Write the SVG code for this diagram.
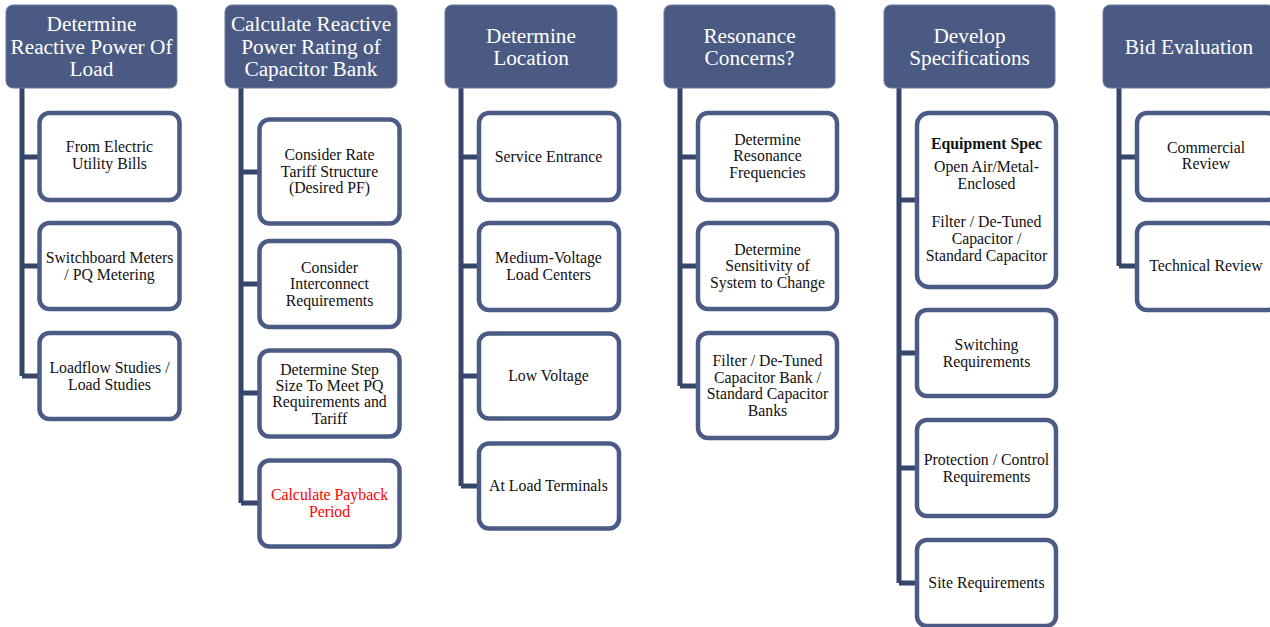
<svg xmlns="http://www.w3.org/2000/svg" width="1270" height="627" viewBox="0 0 1270 627">
<style>
.hd{fill:#4a5a83;stroke:#6a79a0;stroke-width:1}
.bx{fill:#ffffff;stroke:#4b5b86;stroke-width:4.5}
.cn{fill:none;stroke:#36456a;stroke-width:5;stroke-linejoin:miter}
.ht{font-family:"Liberation Serif","Times New Roman",serif;font-size:21.3px;fill:#ffffff;text-anchor:middle}
.ct{font-family:"Liberation Serif","Times New Roman",serif;font-size:15.8px;fill:#111111;text-anchor:middle}
.red{fill:#ff0000}
.b{font-weight:bold}
</style>
<rect width="1270" height="627" fill="#ffffff"/>
<g id="connectors">
<path class="cn" d="M22 88 V376 M22 157 H38 M22 266 H38 M22 376 H38"/>
<path class="cn" d="M241 88 V503 M241 172 H258 M241 284 H258 M241 393 H258 M241 503 H258"/>
<path class="cn" d="M461 88 V486 M461 157 H478 M461 266 H478 M461 376 H478 M461 486 H478"/>
<path class="cn" d="M680 88 V386 M680 157 H697 M680 266 H697 M680 386 H697"/>
<path class="cn" d="M899 88 V583 M899 200 H916 M899 353 H916 M899 468 H916 M899 583 H916"/>
<path class="cn" d="M1119 88 V266 M1119 157 H1136 M1119 266 H1136"/>
</g>
<g id="h1"><rect class="hd" x="6" y="5" width="171" height="83" rx="7"/><text class="ht" x="91.5" y="31">Determine</text><text class="ht" x="91.5" y="54">Reactive Power Of</text><text class="ht" x="91.5" y="76">Load</text></g>
<g id="h2"><rect class="hd" x="225" y="5" width="172" height="83" rx="7"/><text class="ht" x="311" y="31">Calculate Reactive</text><text class="ht" x="311" y="54">Power Rating of</text><text class="ht" x="311" y="76">Capacitor Bank</text></g>
<g id="h3"><rect class="hd" x="445" y="5" width="172" height="83" rx="7"/><text class="ht" x="531" y="43">Determine</text><text class="ht" x="531" y="65">Location</text></g>
<g id="h4"><rect class="hd" x="664" y="5" width="171" height="83" rx="7"/><text class="ht" x="749.5" y="43">Resonance</text><text class="ht" x="749.5" y="65">Concerns?</text></g>
<g id="h5"><rect class="hd" x="884" y="5" width="171" height="83" rx="7"/><text class="ht" x="969.5" y="43">Develop</text><text class="ht" x="969.5" y="65">Specifications</text></g>
<g id="h6"><rect class="hd" x="1103" y="5" width="172" height="83" rx="7"/><text class="ht" x="1189" y="54">Bid Evaluation</text></g>

<g id="c1a"><rect class="bx" x="39.5" y="113" width="140" height="87" rx="10"/><text class="ct" x="109.5" y="152">From Electric</text><text class="ct" x="109.5" y="169">Utility Bills</text></g>
<g id="c1b"><rect class="bx" x="39.5" y="223" width="140" height="86" rx="10"/><text class="ct" x="109.5" y="263">Switchboard Meters</text><text class="ct" x="109.5" y="280">/ PQ Metering</text></g>
<g id="c1c"><rect class="bx" x="39.5" y="333" width="140" height="86" rx="10"/><text class="ct" x="109.5" y="373">Loadflow Studies /</text><text class="ct" x="109.5" y="390">Load Studies</text></g>

<g id="c2a"><rect class="bx" x="259.5" y="119.5" width="140" height="104" rx="10"/><text class="ct" x="329.5" y="160">Consider Rate</text><text class="ct" x="329.5" y="177">Tariff Structure</text><text class="ct" x="329.5" y="193">(Desired PF)</text></g>
<g id="c2b"><rect class="bx" x="259.5" y="241" width="140" height="86" rx="10"/><text class="ct" x="329.5" y="273">Consider</text><text class="ct" x="329.5" y="289">Interconnect</text><text class="ct" x="329.5" y="306">Requirements</text></g>
<g id="c2c"><rect class="bx" x="259.5" y="350.5" width="140" height="86" rx="10"/><text class="ct" x="329.5" y="375">Determine Step</text><text class="ct" x="329.5" y="391">Size To Meet PQ</text><text class="ct" x="329.5" y="407">Requirements and</text><text class="ct" x="329.5" y="424">Tariff</text></g>
<g id="c2d"><rect class="bx" x="259.5" y="460.5" width="140" height="86" rx="10"/><text class="ct red" x="329.5" y="500">Calculate Payback</text><text class="ct red" x="329.5" y="517">Period</text></g>

<g id="c3a"><rect class="bx" x="479" y="113" width="140" height="87" rx="10"/><text class="ct" x="548.5" y="162">Service Entrance</text></g>
<g id="c3b"><rect class="bx" x="479" y="223" width="140" height="87" rx="10"/><text class="ct" x="548.5" y="263">Medium-Voltage</text><text class="ct" x="548.5" y="280">Load Centers</text></g>
<g id="c3c"><rect class="bx" x="479" y="333.5" width="140" height="85" rx="10"/><text class="ct" x="548.5" y="381">Low Voltage</text></g>
<g id="c3d"><rect class="bx" x="479" y="443.5" width="140" height="85" rx="10"/><text class="ct" x="548.5" y="491">At Load Terminals</text></g>

<g id="c4a"><rect class="bx" x="698" y="113" width="139" height="87" rx="10"/><text class="ct" x="767.5" y="145">Determine</text><text class="ct" x="767.5" y="161">Resonance</text><text class="ct" x="767.5" y="178">Frequencies</text></g>
<g id="c4b"><rect class="bx" x="698" y="223" width="139" height="86" rx="10"/><text class="ct" x="767.5" y="255">Determine</text><text class="ct" x="767.5" y="271">Sensitivity of</text><text class="ct" x="767.5" y="288">System to Change</text></g>
<g id="c4c"><rect class="bx" x="698" y="333" width="139" height="105" rx="10"/><text class="ct" x="767.5" y="366">Filter / De-Tuned</text><text class="ct" x="767.5" y="383">Capacitor Bank /</text><text class="ct" x="767.5" y="399">Standard Capacitor</text><text class="ct" x="767.5" y="416">Banks</text></g>

<g id="c5a"><rect class="bx" x="917" y="113" width="139" height="174" rx="12"/><text class="ct b" x="986.5" y="149">Equipment Spec</text><text class="ct" x="986.5" y="172">Open Air/Metal-</text><text class="ct" x="986.5" y="189">Enclosed</text><text class="ct" x="986.5" y="227">Filter / De-Tuned</text><text class="ct" x="986.5" y="244">Capacitor /</text><text class="ct" x="986.5" y="261">Standard Capacitor</text></g>
<g id="c5b"><rect class="bx" x="917" y="310" width="139" height="86" rx="10"/><text class="ct" x="986.5" y="350">Switching</text><text class="ct" x="986.5" y="367">Requirements</text></g>
<g id="c5c"><rect class="bx" x="917" y="420" width="139" height="96" rx="10"/><text class="ct" x="986.5" y="465">Protection / Control</text><text class="ct" x="986.5" y="482">Requirements</text></g>
<g id="c5d"><rect class="bx" x="917" y="540" width="139" height="86" rx="10"/><text class="ct" x="986.5" y="588">Site Requirements</text></g>

<g id="c6a"><rect class="bx" x="1137" y="113" width="140" height="87" rx="10"/><text class="ct" x="1206" y="153">Commercial</text><text class="ct" x="1206" y="169">Review</text></g>
<g id="c6b"><rect class="bx" x="1137" y="223" width="140" height="87" rx="10"/><text class="ct" x="1206" y="271">Technical Review</text></g>
</svg>
